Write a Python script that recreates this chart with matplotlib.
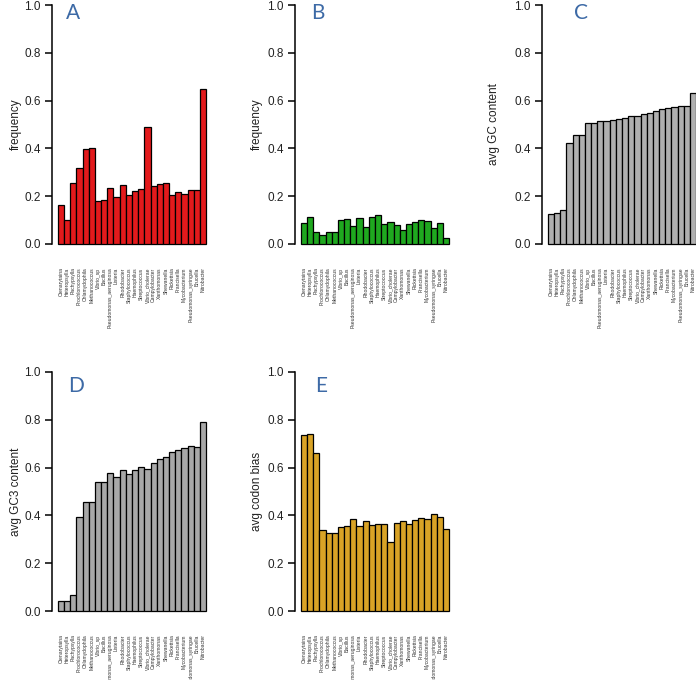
import numpy as np
import matplotlib
matplotlib.use("Agg")
import matplotlib.pyplot as plt

plt.rcParams['font.family'] = ['Liberation Sans', 'DejaVu Sans']

species = ['Ctenarytaina', 'Heteropsylla', 'Pachypsylla', 'Prochlorococcus',
           'Chlamydophila', 'Methanococcus', 'Vibrio_sp', 'Bacillus',
           'Pseudomonas_aeruginosa', 'Listeria', 'Rhodobacter', 'Staphylococcus',
           'Haemophilus', 'Streptococcus', 'Vibrio_cholerae', 'Campylobacter',
           'Xanthomonas', 'Shewanella', 'Rickettsia', 'Francisella',
           'Mycobacterium', 'Pseudomonas_syringae', 'Brucella', 'Nitrobacter']

freq_a = [0.165, 0.100, 0.255, 0.317, 0.397, 0.400, 0.180, 0.185, 0.236, 0.197,
          0.245, 0.207, 0.220, 0.230, 0.490, 0.242, 0.250, 0.255, 0.205, 0.218,
          0.211, 0.228, 0.224, 0.650]
freq_b = [0.087, 0.113, 0.050, 0.038, 0.050, 0.050, 0.100, 0.104, 0.074, 0.110,
          0.070, 0.115, 0.120, 0.083, 0.090, 0.078, 0.057, 0.082, 0.091, 0.100,
          0.096, 0.067, 0.087, 0.024]
gc = [0.125, 0.128, 0.142, 0.422, 0.455, 0.455, 0.505, 0.505, 0.513, 0.515,
      0.520, 0.522, 0.528, 0.535, 0.535, 0.543, 0.550, 0.556, 0.565, 0.568,
      0.573, 0.576, 0.577, 0.633]
gc3 = [0.040, 0.040, 0.065, 0.395, 0.455, 0.455, 0.540, 0.540, 0.578, 0.562,
       0.588, 0.575, 0.588, 0.602, 0.595, 0.620, 0.638, 0.643, 0.665, 0.672,
       0.680, 0.690, 0.688, 0.790]
codon = [0.738, 0.740, 0.660, 0.340, 0.326, 0.326, 0.350, 0.355, 0.385, 0.357,
         0.378, 0.360, 0.365, 0.365, 0.290, 0.370, 0.378, 0.365, 0.382, 0.390,
         0.385, 0.405, 0.392, 0.342]

panels = [
    # letter, values, ylabel, colour, spine x px, zero y px, ylabel x (axes), letter x/y (data)
    ('A', freq_a, 'frequency', '#e31a1c', 52, 244, -0.19, 1.9, 0.965),
    ('B', freq_b, 'frequency', '#1fa81f', 295, 244, -0.20, 2.3, 0.965),
    ('C', gc, 'avg GC content', '#b0b0b0', 542, 244, -0.26, 4.9, 0.965),
    ('D', gc3, 'avg GC3 content', '#a8a8a8', 52, 611, -0.19, 2.5, 0.94),
    ('E', codon, 'avg codon bias', '#d9a326', 295, 611, -0.20, 2.8, 0.94),
]

W, H = 696, 680
fig = plt.figure(figsize=(W / 100, H / 100), dpi=100)

n = len(species)
x = np.arange(n)
unit = 239.0  # px per 1.0 on y
ax_w = 160.0

for letter, vals, ylab, col, sx, zy, labx, lx, ly in panels:
    top_px = zy - 1.04 * unit
    bot_px = zy + 0.04 * unit
    ax = fig.add_axes([sx / W, (H - bot_px) / H, ax_w / W, (bot_px - top_px) / H])
    ax.bar(x, vals, width=1.0, color=col, edgecolor='black', linewidth=0.9)
    ax.set_xlim(-0.5 - 0.04 * n, n - 0.5 + 0.04 * n)
    ax.set_ylim(-0.04, 1.04)
    for s in ['top', 'right', 'bottom']:
        ax.spines[s].set_visible(False)
    ax.spines['left'].set_bounds(0, 1)
    ax.spines['left'].set_linewidth(1.1)
    ax.set_yticks(np.arange(0, 1.01, 0.2))
    ax.set_yticklabels(['%.1f' % v for v in np.arange(0, 1.01, 0.2)],
                       fontsize=8.5, color='#222222')
    ax.tick_params(axis='y', length=5, width=1.1, pad=3)
    ax.set_xticks(x)
    ax.set_xticklabels(species, rotation=90, fontsize=3.6, color='#333333')
    ax.tick_params(axis='x', length=0, pad=10)
    ax.set_ylabel(ylab, fontsize=8.5, color='#222222')
    ax.yaxis.set_label_coords(labx, 0.5)
    ax.text(lx, ly, letter, fontsize=15, color='#3d6aa6', family='Lato',
            ha='center', va='center')
    ax.patch.set_alpha(0)

fig.savefig('out.png', dpi=100)
